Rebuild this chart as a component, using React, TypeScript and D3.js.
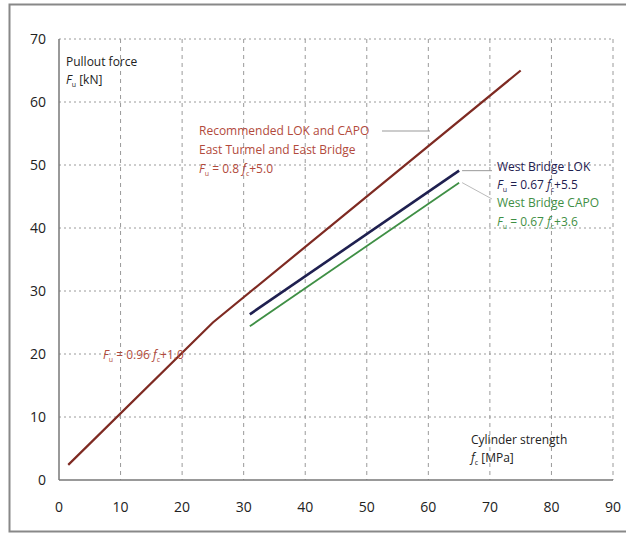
import React from 'react';
import * as d3 from 'd3';

// values
const xTicks = [0, 10, 20, 30, 40, 50, 60, 70, 80, 90];
const yTicks = [0, 10, 20, 30, 40, 50, 60, 70];

const recStrength = [1.5, 25, 75];
const recForce = [2.4, 25, 65];

const lokStrength = [31, 65];
const lokForce = [26.3, 49.1];

const capoStrength = [31, 65];
const capoForce = [24.4, 47.2];

const W = 626;
const H = 542;
const FONT = '"Open Sans", "Noto Sans", sans-serif';

const RED_LINE = '#7e2a22';
const RED_TEXT = '#b24a3c';
const NAVY = '#1f2050';
const GREEN = '#3f8f45';

type Part = { t: string; it?: boolean; sub?: boolean };

// render a run of text with italic letters and subscripts, keeping the baseline right
const rich = (parts: Part[]) => {
  let down = false;
  return parts.map((p, i) => {
    let dy = 0;
    if (p.sub && !down) { dy = 3; down = true; }
    else if (!p.sub && down) { dy = -3; down = false; }
    return (
      <tspan key={i} dy={dy || undefined} fontStyle={p.it ? 'italic' : undefined}
        fontSize={p.sub ? 7 : undefined}>{p.t}</tspan>
    );
  });
};

const eqParts = (slope: string, icpt: string): Part[] => [
  { t: 'F', it: true }, { t: 'u', sub: true }, { t: '\u00a0= ' + slope + ' ' },
  { t: 'f', it: true }, { t: 'c', sub: true }, { t: '+' + icpt },
];

export default function App() {
  const x = d3.scaleLinear().domain([0, 90]).range([59, 613]);
  const y = d3.scaleLinear().domain([0, 70]).range([480, 39]);

  const line = d3
    .line<[number, number]>()
    .x(d => x(d[0]))
    .y(d => y(d[1]));

  const zip = (a: number[], b: number[]) => a.map((v, i) => [v, b[i]] as [number, number]);

  const lokEnd = lokStrength.length - 1;
  const capoEnd = capoStrength.length - 1;

  return (
    <svg width={W} height={H} style={{ position: 'absolute', left: 0, top: 0, background: '#fff' }}>
      {/* outer frame */}
      <rect x={9.5} y={4.5} width={640} height={527} fill="none" stroke="#888" strokeWidth={2} />

      {/* grid */}
      {xTicks.filter(t => t > 0).map(t => (
        <line key={'gx' + t} x1={x(t)} x2={x(t)} y1={y(70)} y2={y(0)}
          stroke="#9a9a9a" strokeWidth={1} strokeDasharray="4,4" />
      ))}
      {yTicks.filter(t => t > 0).map(t => (
        <line key={'gy' + t} x1={x(0)} x2={x(90)} y1={y(t)} y2={y(t)}
          stroke="#9a9a9a" strokeWidth={1} strokeDasharray="2,3" />
      ))}

      {/* axes */}
      <line x1={x(0)} x2={x(0)} y1={y(70)} y2={y(0)} stroke="#777" strokeWidth={1.5} />
      <line x1={x(0)} x2={x(90)} y1={y(0)} y2={y(0)} stroke="#777" strokeWidth={1.5} />

      {/* tick labels */}
      {yTicks.map(t => (
        <text key={'ty' + t} x={46} y={y(t)} dy="0.35em" textAnchor="end"
          fontFamily={FONT} fontSize={14} fill="#222">{t}</text>
      ))}
      {xTicks.map(t => (
        <text key={'tx' + t} x={x(t)} y={507} dy="0.35em" textAnchor="middle"
          fontFamily={FONT} fontSize={14} fill="#222">{t}</text>
      ))}

      {/* axis titles */}
      <text x={66} y={66} fontFamily={FONT} fontSize={12} fill="#222">Pullout force</text>
      <text x={66} y={84} fontFamily={FONT} fontSize={12} fill="#222">
        {rich([{ t: 'F', it: true }, { t: 'u', sub: true }, { t: '\u00a0[kN]' }])}
      </text>
      <text x={471} y={444} fontFamily={FONT} fontSize={12} fill="#222">Cylinder strength</text>
      <text x={471} y={462} fontFamily={FONT} fontSize={12} fill="#222">
        {rich([{ t: 'f', it: true }, { t: 'c', sub: true }, { t: '\u00a0[MPa]' }])}
      </text>

      {/* lines */}
      <path d={line(zip(recStrength, recForce)) || ''} fill="none" stroke={RED_LINE} strokeWidth={2.2} />
      <path d={line(zip(lokStrength, lokForce)) || ''} fill="none" stroke={NAVY} strokeWidth={2.6} />
      <path d={line(zip(capoStrength, capoForce)) || ''} fill="none" stroke={GREEN} strokeWidth={1.8} />

      {/* leader lines */}
      <line x1={382} x2={430} y1={131} y2={131} stroke="#999" strokeWidth={1} />
      <line x1={178} x2={x(20) - 4} y1={355} y2={355} stroke="#999" strokeWidth={1} />
      <line x1={x(lokStrength[lokEnd]) + 3} x2={492} y1={y(lokForce[lokEnd])} y2={y(lokForce[lokEnd])}
        stroke="#999" strokeWidth={1} />
      <line x1={x(capoStrength[capoEnd]) + 3} x2={492} y1={y(capoForce[capoEnd])} y2={199}
        stroke="#bbb" strokeWidth={1} />

      {/* recommended label */}
      <g fontFamily={FONT} fontSize={12} fill={RED_TEXT}>
        <text x={199} y={135}>Recommended LOK and CAPO</text>
        <text x={199} y={154}>East Turmel and East Bridge</text>
        <text x={199} y={173}>{rich(eqParts('0.8', '5.0'))}</text>
        <text x={103} y={359}>{rich(eqParts('0.96', '1.0'))}</text>
      </g>

      {/* west bridge labels */}
      <g fontFamily={FONT} fontSize={12}>
        <text x={497} y={171} fill={NAVY}>West Bridge LOK</text>
        <text x={497} y={189} fill={NAVY}>{rich(eqParts('0.67', '5.5'))}</text>
        <text x={497} y={207} fill={GREEN}>West Bridge CAPO</text>
        <text x={497} y={226} fill={GREEN}>{rich(eqParts('0.67', '3.6'))}</text>
      </g>
    </svg>
  );
}
